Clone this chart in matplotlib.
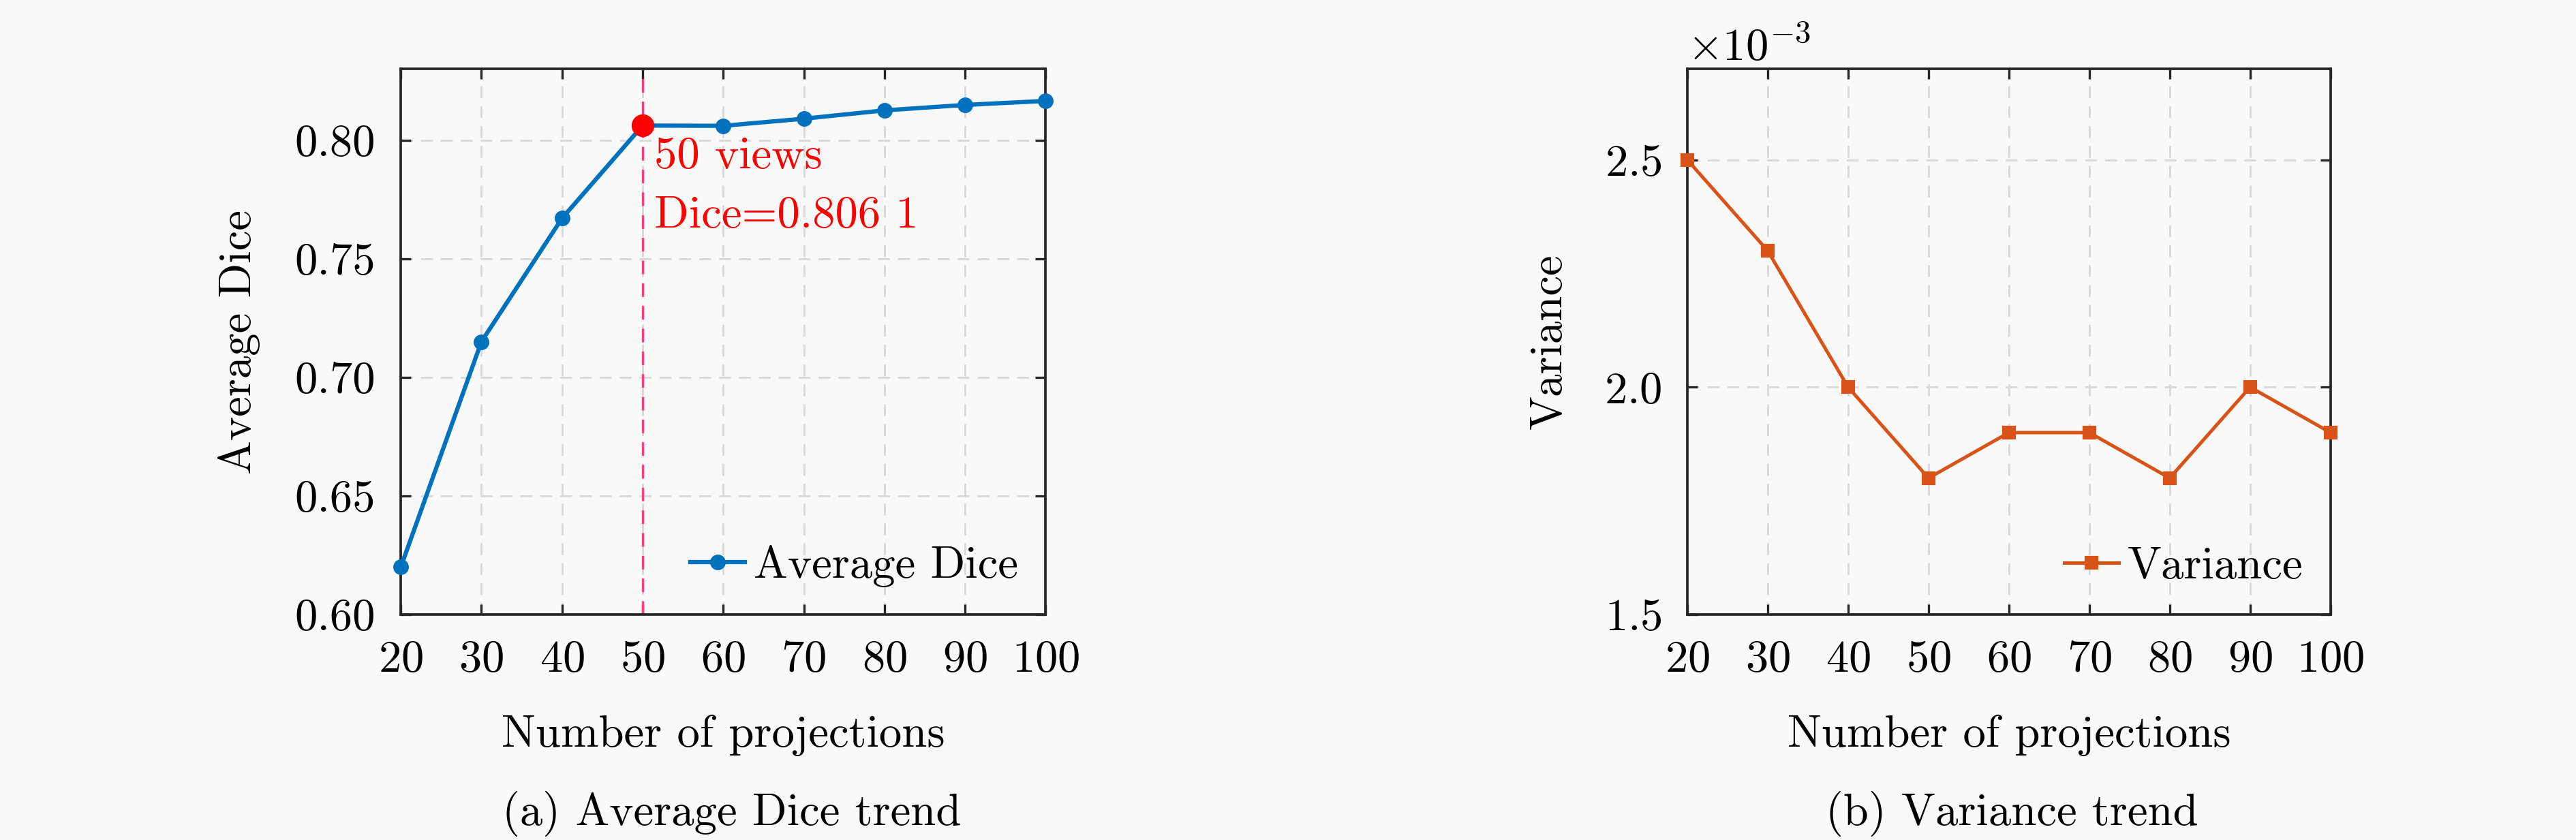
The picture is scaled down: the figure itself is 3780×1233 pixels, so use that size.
import matplotlib
matplotlib.use('Agg')
import matplotlib.pyplot as plt
from matplotlib.ticker import FormatStrFormatter, ScalarFormatter

plt.rcParams['font.family'] = 'serif'
plt.rcParams['font.serif'] = ['cmr10']
plt.rcParams['mathtext.fontset'] = 'cm'
plt.rcParams['axes.unicode_minus'] = False
plt.rcParams['axes.formatter.use_mathtext'] = True

projections = [20, 30, 40, 50, 60, 70, 80, 90, 100]
avg_dice = [0.620, 0.715, 0.767, 0.8061, 0.806, 0.809, 0.8125, 0.8148, 0.8165]
variance = [2.5e-3, 2.3e-3, 2.0e-3, 1.8e-3, 1.9e-3, 1.9e-3, 1.8e-3, 2.0e-3, 1.9e-3]
dice_ticks = [0.60, 0.65, 0.70, 0.75, 0.80]
var_ticks = [1.5e-3, 2.0e-3, 2.5e-3]
best_idx = 3

bg = '#f9f9f9'
blue = '#0072bd'
orange = '#d95319'
fs = 16


def style_axes(ax):
    ax.set_facecolor(bg)
    ax.set_xlim(20, 100)
    ax.set_xticks(projections)
    ax.grid(True, linestyle=(0, (6, 4)), color='#dadada', linewidth=0.7)
    ax.tick_params(direction='in', top=True, right=True, length=3.5,
                   width=0.8, color='#262626', labelsize=fs, pad=9)
    for sp in ax.spines.values():
        sp.set_linewidth(0.9)
        sp.set_color('#262626')
    ax.set_xlabel('Number of projections', fontsize=fs, labelpad=12)


fig = plt.figure(figsize=(12.6, 4.11), dpi=300, facecolor=bg)
ax1 = fig.add_axes([0.1556, 0.2685, 0.2503, 0.6495])
ax2 = fig.add_axes([0.6550, 0.2685, 0.2497, 0.6495])

# (a) average dice
style_axes(ax1)
ax1.axvline(projections[best_idx], color='#ff3d7f', linewidth=0.8,
            linestyle=(0, (6, 4)), zorder=2)
ax1.plot(projections, avg_dice, color=blue, linewidth=1.5, marker='o',
         markersize=4.5, label='Average Dice', zorder=3, clip_on=False)
ax1.plot(projections[best_idx], avg_dice[best_idx], 'o', color='#ff0000',
         markersize=7, zorder=4, clip_on=False)
ax1.text(projections[best_idx] + 1.4, avg_dice[best_idx] - 0.0045,
         '50 views\nDice=0.806 1', color='#ff0000', fontsize=fs,
         va='top', ha='left', linespacing=1.6)
ax1.set_ylim(0.60, 0.83)
ax1.set_yticks(dice_ticks)
ax1.yaxis.set_major_formatter(FormatStrFormatter('%.2f'))
ax1.set_ylabel('Average Dice', fontsize=fs, labelpad=12)
ax1.legend(loc='lower right', frameon=False, fontsize=fs, handlelength=1.2,
           handletextpad=0.2, borderpad=0.3, borderaxespad=0.3)

# (b) variance
style_axes(ax2)
ax2.plot(projections, variance, color=orange, linewidth=1.2, marker='s',
         markersize=4, label='Variance', zorder=3, clip_on=False)
ax2.set_ylim(1.5e-3, 2.7e-3)
ax2.set_yticks(var_ticks)
fmt = ScalarFormatter(useMathText=True)
fmt.set_powerlimits((-2, 2))
ax2.yaxis.set_major_formatter(fmt)
ax2.yaxis.get_offset_text().set_fontsize(fs)
ax2.set_ylabel('Variance', fontsize=fs, labelpad=12)
ax2.legend(loc='lower right', frameon=False, fontsize=fs, handlelength=1.2,
           handletextpad=0.2, borderpad=0.3, borderaxespad=0.3)

fig.text(0.284, 0.031, '(a) Average Dice trend', fontsize=fs,
         ha='center', va='center')
fig.text(0.781, 0.031, '(b) Variance trend', fontsize=fs,
         ha='center', va='center')

fig.savefig('out.png', dpi=300, facecolor=bg)
